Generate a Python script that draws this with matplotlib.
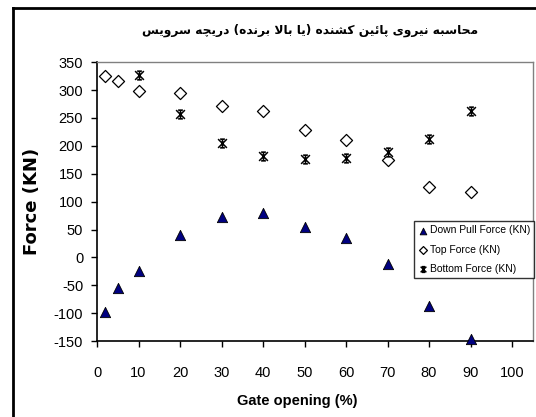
import matplotlib
matplotlib.use('Agg')
import matplotlib.pyplot as plt
from matplotlib.path import Path
from matplotlib.lines import Line2D

# data
gate_down = [2, 5, 10, 20, 30, 40, 50, 60, 70, 80, 90]
down_pull = [-97, -55, -25, 40, 72, 80, 55, 34, -12, -87, -147]
gate_top = [2, 5, 10, 20, 30, 40, 50, 60, 70, 80, 90]
top_force = [325, 317, 299, 295, 272, 263, 229, 211, 174, 127, 118]
gate_bottom = [10, 20, 30, 40, 50, 60, 70, 80, 90]
bottom_force = [327, 257, 205, 182, 176, 179, 189, 213, 263]

title_fa = 'محاسبه نیروی پائین کشنده (یا بالا برنده) دریچه سرویس'
labels = ['Down Pull Force (KN)', 'Top Force (KN)', 'Bottom Force (KN)']
xticks = list(range(0, 101, 10))
yticks = list(range(-150, 351, 50))

# minimal arabic/persian shaping (matplotlib has no complex text layout)
FORMS = {
    '\u0627': ('\uFE8D', '\uFE8E', None, None),
    '\u0628': ('\uFE8F', '\uFE90', '\uFE91', '\uFE92'),
    '\u062D': ('\uFEA1', '\uFEA2', '\uFEA3', '\uFEA4'),
    '\u062F': ('\uFEA9', '\uFEAA', None, None),
    '\u0631': ('\uFEAD', '\uFEAE', None, None),
    '\u0633': ('\uFEB1', '\uFEB2', '\uFEB3', '\uFEB4'),
    '\u0634': ('\uFEB5', '\uFEB6', '\uFEB7', '\uFEB8'),
    '\u0644': ('\uFEDD', '\uFEDE', '\uFEDF', '\uFEE0'),
    '\u0645': ('\uFEE1', '\uFEE2', '\uFEE3', '\uFEE4'),
    '\u0646': ('\uFEE5', '\uFEE6', '\uFEE7', '\uFEE8'),
    '\u0647': ('\uFEE9', '\uFEEA', '\uFEEB', '\uFEEC'),
    '\u0648': ('\uFEED', '\uFEEE', None, None),
    '\u0626': ('\uFE89', '\uFE8A', '\uFE8B', '\uFE8C'),
    '\u06CC': ('\uFBFC', '\uFBFD', '\uFBFE', '\uFBFF'),
    '\u067E': ('\uFB56', '\uFB57', '\uFB58', '\uFB59'),
    '\u0686': ('\uFB7A', '\uFB7B', '\uFB7C', '\uFB7D'),
    '\u06A9': ('\uFB8E', '\uFB8F', '\uFB90', '\uFB91'),
}


def shape_fa(s):
    out = []
    i = 0
    while i < len(s):
        ch = s[i]
        if ch not in FORMS:
            out.append(ch)
            i += 1
            continue
        prev = s[i - 1] if i > 0 else ''
        pj = prev in FORMS and FORMS[prev][2] is not None
        if ch == '\u0644' and i + 1 < len(s) and s[i + 1] == '\u0627':
            out.append('\uFEFC' if pj else '\uFEFB')
            i += 2
            continue
        nxt = s[i + 1] if i + 1 < len(s) else ''
        nj = FORMS[ch][2] is not None and nxt in FORMS
        iso, fin, ini, med = FORMS[ch]
        if pj and nj:
            out.append(med)
        elif pj:
            out.append(fin)
        elif nj:
            out.append(ini)
        else:
            out.append(iso)
        i += 1
    vis = ''.join(reversed(out))
    return vis.translate(str.maketrans('()', ')('))


# excel style star marker
star = Path([(-1, -1), (1, 1), (-1, 1), (1, -1), (0, -1), (0, 1),
             (-0.55, 1), (0.55, 1), (-0.55, -1), (0.55, -1)],
            [Path.MOVETO, Path.LINETO] * 5)

plt.rcParams['font.family'] = ['Liberation Sans Narrow', 'Liberation Sans', 'DejaVu Sans']
plt.rcParams['axes.unicode_minus'] = False

fig = plt.figure(figsize=(5.36, 4.17), dpi=100)
ax = fig.add_axes([0.181, 0.182, 0.813, 0.669])

ax.scatter(gate_down, down_pull, marker='^', s=55, c='#000080', edgecolors='black',
           linewidths=0.6, zorder=3, clip_on=False, label=labels[0])
ax.scatter(gate_top, top_force, marker='D', s=38, c='white', edgecolors='black',
           linewidths=0.9, zorder=3, clip_on=False, label=labels[1])
ax.scatter(gate_bottom, bottom_force, marker='s', s=60, c='white', edgecolors='none', zorder=4)
ax.scatter(gate_bottom, bottom_force, marker=star, s=40, c='black', linewidths=1.1,
           zorder=5, label=labels[2])

ax.set_xlim(0, 105)
ax.set_ylim(-150, 350)
ax.set_xticks(xticks)
ax.set_yticks(yticks)
ax.tick_params(direction='out', length=4, width=1, labelsize=10.5, colors='black', pad=6)
ax.tick_params(axis='x', pad=14)
for side in ['left', 'bottom']:
    ax.spines[side].set_color('black')
    ax.spines[side].set_linewidth(1.2)
for side in ['top', 'right']:
    ax.spines[side].set_color('#808080')
    ax.spines[side].set_linewidth(1.0)

ax.set_xlabel('Gate opening (%)', fontsize=10.5, fontweight='bold', labelpad=12)
ax.xaxis.set_label_coords(0.46, -0.19)
ax.set_ylabel('Force (KN)', fontsize=13, fontweight='bold', family='DejaVu Sans', labelpad=9)

fig.text(0.578, 0.928, shape_fa(title_fa), ha='center', va='center', fontsize=8.8,
         fontweight='bold', family='DejaVu Sans')

leg = ax.legend(loc='upper right', bbox_to_anchor=(1.003, 0.43), fontsize=7.5, frameon=True,
                fancybox=False, edgecolor='black', handletextpad=0.1, markerscale=0.65,
                borderpad=0.4, labelspacing=0.9, handlelength=1.0, borderaxespad=0)
leg.get_frame().set_linewidth(1.0)
leg.set_zorder(6)

# outer chart frame (cut off at right and bottom in the reference)
fig.add_artist(Line2D([0.024, 0.024], [0, 0.981], transform=fig.transFigure, color='black', lw=2))
fig.add_artist(Line2D([0.024, 1], [0.981, 0.981], transform=fig.transFigure, color='black', lw=2))

fig.savefig('out.png', dpi=100)
